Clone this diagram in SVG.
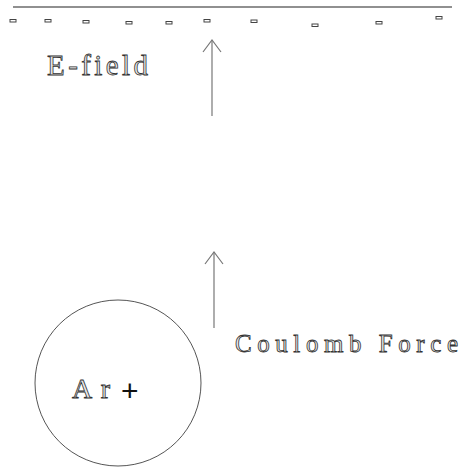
<svg xmlns="http://www.w3.org/2000/svg" width="462" height="467" viewBox="0 0 462 467">
<defs>
<style>
.lbl{font-family:"Liberation Serif","DejaVu Serif",serif;fill:#e8e8e8;stroke:#333;stroke-width:0.8}
.plus{font-family:"Liberation Sans","DejaVu Sans",sans-serif;fill:#111;stroke:none}
.conn{stroke:#777;stroke-width:1.2;fill:none}
.minus{fill:#fff;stroke:#444;stroke-width:1}
</style>
<marker id="open" viewBox="0 0 14 20" refX="13" refY="10" markerWidth="14" markerHeight="20" markerUnits="userSpaceOnUse" orient="auto">
<path d="M1,1 L13,10 L1,19" fill="none" stroke="#777" stroke-width="1.2"/>
</marker>
</defs>
<rect width="462" height="467" fill="#fff"/>
<g id="plate">
<line x1="13" y1="7" x2="452" y2="7" stroke="#222" stroke-width="1.2"/>
<rect class="minus" x="10" y="19.5" width="6" height="2.5"/>
<rect class="minus" x="45" y="19.5" width="6" height="2.5"/>
<rect class="minus" x="83" y="20.5" width="6" height="2.5"/>
<rect class="minus" x="126" y="21.5" width="6" height="2.5"/>
<rect class="minus" x="166" y="21.5" width="6" height="2.5"/>
<rect class="minus" x="204" y="19.5" width="6" height="2.5"/>
<rect class="minus" x="251" y="20" width="6" height="2.5"/>
<rect class="minus" x="312" y="24" width="6" height="2.5"/>
<rect class="minus" x="376" y="21.5" width="6" height="2.5"/>
<rect class="minus" x="436" y="16.5" width="6" height="2.5"/>
</g>
<g id="efield-label">
<text class="lbl" x="47" y="75" font-size="29" textLength="101" lengthAdjust="spacing">E-field</text>
</g>
<g id="ion">
<circle cx="118" cy="383" r="83" fill="none" stroke="#555" stroke-width="1"/>
<text class="lbl" x="72" y="398" font-size="28" textLength="38" lengthAdjust="spacing">Ar</text>
<text class="plus" x="121" y="401" font-size="30">+</text>
</g>
<g id="coulomb-label">
<text class="lbl" x="235" y="352" font-size="25" textLength="223" lengthAdjust="spacing">Coulomb Force</text>
</g>
<g id="connectors">
<line class="conn" x1="212" y1="116" x2="212" y2="40" marker-end="url(#open)"/>
<line class="conn" x1="214" y1="328" x2="214" y2="252" marker-end="url(#open)"/>
</g>
</svg>
